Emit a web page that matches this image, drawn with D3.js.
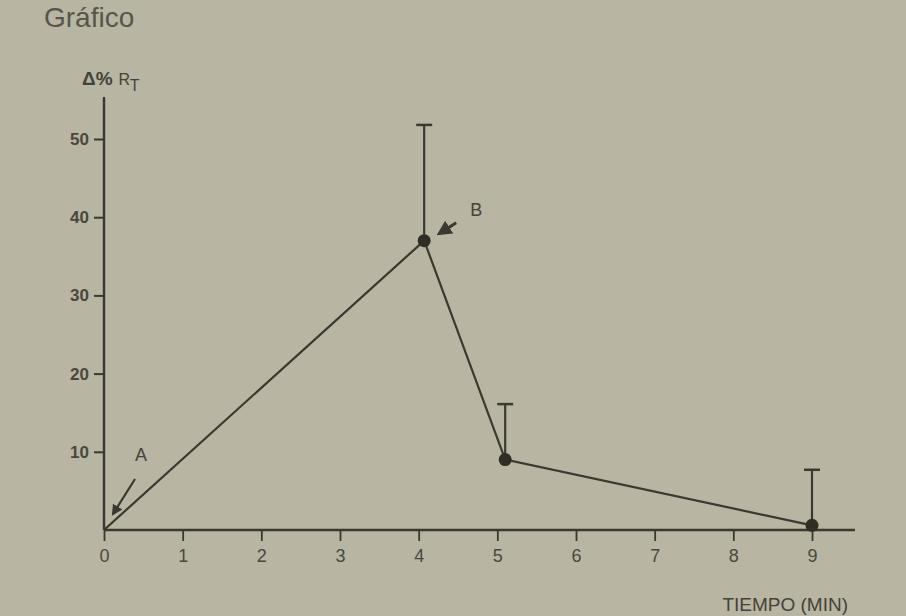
<!DOCTYPE html>
<html><head><meta charset="utf-8">
<script src="https://cdn.jsdelivr.net/npm/d3@7"></script>
<style>html,body{margin:0;padding:0;background:#b8b5a2;}svg{display:block;}</style>
</head><body>
<script>
const times = [0, 4.07, 5.1, 9];
const values = [0, 37, 9, 0.6];
const errorTops = [null, 51.8, 16.1, 7.7];
const pointLabels = ["A", "B", null, null];
const xTicks = [0,1,2,3,4,5,6,7,8,9];
const yTicks = [10,20,30,40,50];

const W = 906, H = 616;
const ink = "#3b392f";
const svg = d3.select("body").append("svg").attr("width", W).attr("height", H);
svg.append("rect").attr("width", W).attr("height", H).attr("fill", "#b8b5a2");

const x = d3.scaleLinear().domain([0, 9]).range([104, 812]);
const y = d3.scaleLinear().domain([0, 50]).range([530, 139]);

// title
svg.append("text").attr("x", 44).attr("y", 27).attr("font-family", "Liberation Sans, Arial, sans-serif")
  .attr("font-size", 28).attr("fill", "#56554a").text("Gráfico");

// axes lines
svg.append("line").attr("x1", x(0)).attr("x2", x(0)).attr("y1", y(0)).attr("y2", 97)
  .attr("stroke", ink).attr("stroke-width", 2.4);
svg.append("line").attr("x1", x(0)).attr("x2", 855).attr("y1", y(0)).attr("y2", y(0))
  .attr("stroke", ink).attr("stroke-width", 2.4);

// y axis ticks
const yAxis = d3.axisLeft(y).tickValues(yTicks).tickSize(10).tickPadding(5).tickFormat(d3.format("d"));
const gy = svg.append("g").attr("transform", `translate(${x(0)},0)`).call(yAxis);
gy.select(".domain").remove();
gy.selectAll(".tick line").attr("stroke", ink).attr("stroke-width", 2);
gy.selectAll(".tick text").attr("font-family", "Liberation Sans, Arial, sans-serif").attr("font-size", 17)
  .attr("font-weight", "bold").attr("fill", "#4a483e");

// x axis ticks
const xAxis = d3.axisBottom(x).tickValues(xTicks).tickSize(11).tickPadding(8).tickFormat(d3.format("d"));
const gx = svg.append("g").attr("transform", `translate(0,${y(0)})`).call(xAxis);
gx.select(".domain").remove();
gx.selectAll(".tick line").attr("stroke", ink).attr("stroke-width", 1.8);
gx.selectAll(".tick text").attr("font-family", "Liberation Sans Narrow, Liberation Sans, Arial, sans-serif").attr("font-size", 18)
  .attr("fill", "#4a483e");

// axis labels
const yl = svg.append("text").attr("x", 82).attr("y", 85).attr("font-family", "Liberation Sans, Arial, sans-serif")
  .attr("fill", "#44433a").attr("font-weight", "bold");
yl.append("tspan").attr("font-size", 19).text("Δ%");
yl.append("tspan").attr("font-size", 16).attr("dx", 6).attr("font-weight", "normal").text("R");
yl.append("tspan").attr("font-size", 16).attr("dy", 6).attr("font-weight", "normal").text("T");

svg.append("text").attr("x", 848).attr("y", 611).attr("text-anchor", "end")
  .attr("font-family", "Liberation Sans Narrow, Liberation Sans, Arial, sans-serif").attr("font-size", 19)
  .attr("fill", "#44433a").text("TIEMPO (MIN)");

const data = times.map((t, i) => ({t, v: values[i], e: errorTops[i], lab: pointLabels[i]}));

// error bars
const eb = data.filter(d => d.e != null);
svg.selectAll(".eb").data(eb).join("line").attr("x1", d => x(d.t)).attr("x2", d => x(d.t))
  .attr("y1", d => y(d.v)).attr("y2", d => y(d.e)).attr("stroke", ink).attr("stroke-width", 2.2);
svg.selectAll(".cap").data(eb).join("line").attr("x1", d => x(d.t) - 8).attr("x2", d => x(d.t) + 8)
  .attr("y1", d => y(d.e)).attr("y2", d => y(d.e)).attr("stroke", ink).attr("stroke-width", 2.5);

// line
svg.append("path").datum(data).attr("d", d3.line().x(d => x(d.t)).y(d => y(d.v)))
  .attr("fill", "none").attr("stroke", ink).attr("stroke-width", 2.2);

// points
svg.selectAll(".pt").data(data.filter((d, i) => i > 0)).join("circle")
  .attr("cx", d => x(d.t)).attr("cy", d => y(d.v)).attr("r", 6.5).attr("fill", "#2f2d26");

// annotations A and B with arrows
svg.append("defs").append("marker").attr("id", "ah").attr("viewBox", "0 0 10 10").attr("refX", 8).attr("refY", 5)
  .attr("markerWidth", 5).attr("markerHeight", 5).attr("orient", "auto")
  .append("path").attr("d", "M0,0L10,5L0,10z").attr("fill", ink);

const A = data[0], B = data[1];
svg.append("text").attr("x", x(A.t) + 37).attr("y", y(A.v) - 69).attr("text-anchor", "middle")
  .attr("font-family", "Liberation Sans, Arial, sans-serif").attr("font-size", 18).attr("fill", "#44433a").text(A.lab);
svg.append("line").attr("x1", x(A.t) + 31).attr("y1", y(A.v) - 51).attr("x2", x(A.t) + 9).attr("y2", y(A.v) - 16)
  .attr("stroke", ink).attr("stroke-width", 2.2).attr("marker-end", "url(#ah)");

svg.append("text").attr("x", x(B.t) + 52).attr("y", y(B.v) - 25).attr("text-anchor", "middle")
  .attr("font-family", "Liberation Sans, Arial, sans-serif").attr("font-size", 18).attr("fill", "#44433a").text(B.lab);
svg.append("line").attr("x1", x(B.t) + 32).attr("y1", y(B.v) - 18).attr("x2", x(B.t) + 15).attr("y2", y(B.v) - 7)
  .attr("stroke", ink).attr("stroke-width", 3).attr("marker-end", "url(#ah)");
</script>
</body></html>
